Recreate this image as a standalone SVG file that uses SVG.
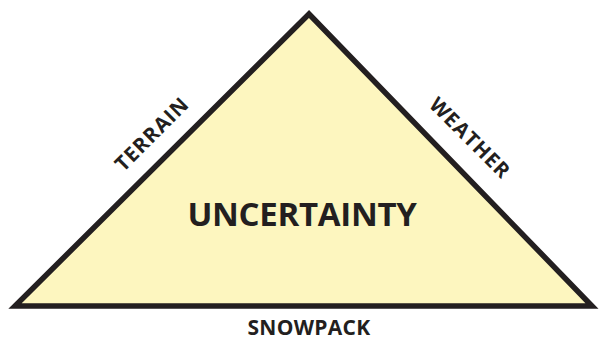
<svg xmlns="http://www.w3.org/2000/svg" width="600" height="341" viewBox="0 0 600 341">
<style>
.lbl{font-family:"Open Sans","Noto Sans","Liberation Sans",sans-serif;font-weight:bold;fill:#231f20;text-anchor:middle}
</style>
<rect width="600" height="341" fill="#ffffff"/>
<g id="triangle">
<polygon points="309,14 15,306 592,306" fill="#fdf6bf" stroke="#231f20" stroke-width="5.5" stroke-linejoin="miter"/>
</g>
<g id="center"><text class="lbl" x="302" y="226" font-size="33" letter-spacing="-0.3">UNCERTAINTY</text></g>
<g id="terrain"><text class="lbl" transform="translate(157,139) rotate(-45)" x="0" y="0" font-size="20.5" letter-spacing="1">TERRAIN</text></g>
<g id="weather"><text class="lbl" transform="translate(465,143) rotate(45)" x="0" y="0" font-size="20.5" letter-spacing="1">WEATHER</text></g>
<g id="snowpack"><text class="lbl" x="309" y="335" font-size="21" letter-spacing="0.3">SNOWPACK</text></g>
<g id="connectors"/>
</svg>
